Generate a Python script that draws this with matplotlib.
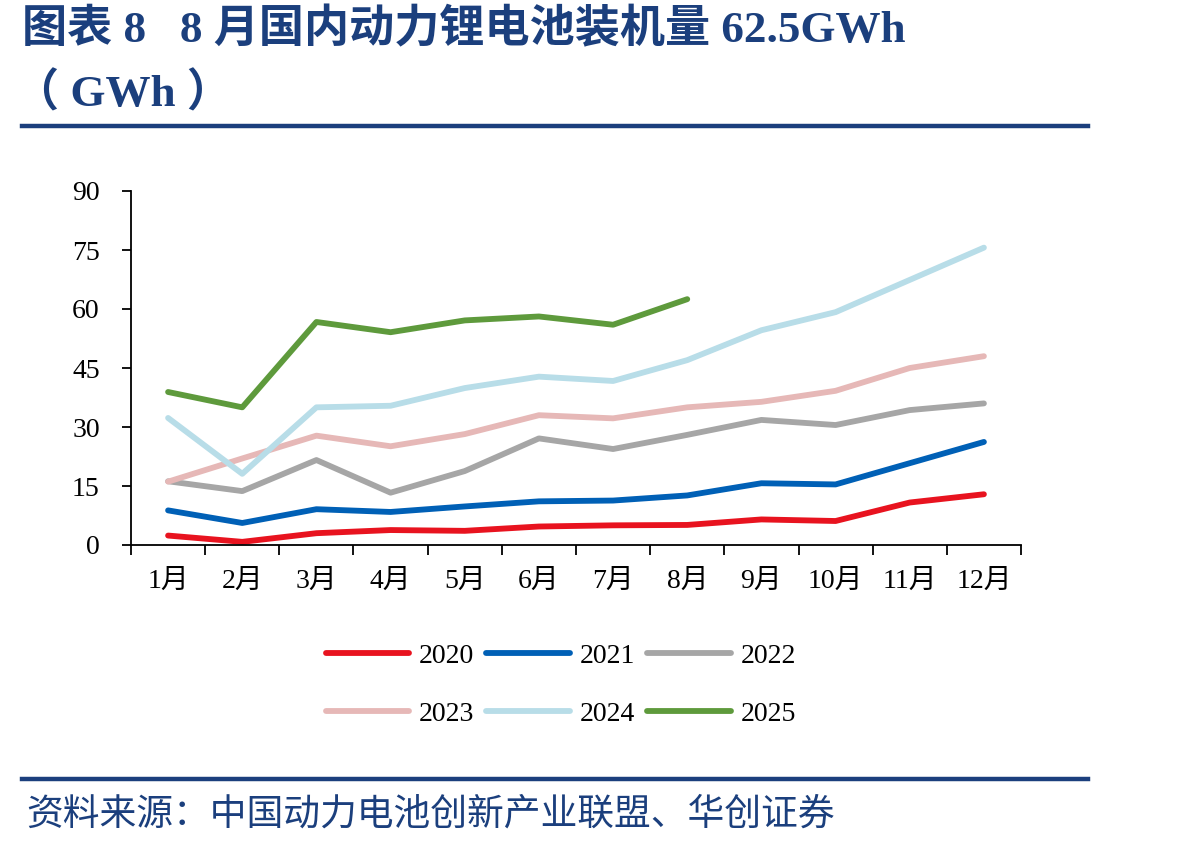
import matplotlib
matplotlib.use("Agg")
import matplotlib.pyplot as plt
from matplotlib.lines import Line2D

plt.rcParams['font.family'] = ['Liberation Serif', 'Noto Sans CJK SC']

# Monthly installed volume of power batteries (GWh)
months = ["1月", "2月", "3月", "4月", "5月", "6月", "7月", "8月", "9月", "10月", "11月", "12月"]
v2020 = [2.4, 0.8, 3.0, 3.8, 3.6, 4.7, 5.0, 5.1, 6.5, 6.1, 10.8, 12.9]
v2021 = [8.8, 5.6, 9.1, 8.4, 9.8, 11.1, 11.3, 12.6, 15.7, 15.4, 20.8, 26.2]
v2022 = [16.2, 13.7, 21.6, 13.3, 18.8, 27.1, 24.4, 28.0, 31.8, 30.5, 34.3, 36.0]
v2023 = [16.1, 22.0, 27.8, 25.1, 28.2, 33.0, 32.2, 35.0, 36.4, 39.2, 45.0, 48.0]
v2024 = [32.3, 18.1, 35.0, 35.4, 39.9, 42.8, 41.7, 47.0, 54.6, 59.2, 67.4, 75.6]
v2025 = [38.9, 35.0, 56.7, 54.1, 57.1, 58.1, 56.0, 62.5]

series = [
    ("2020", v2020, "#E8131F"),
    ("2021", v2021, "#0060B6"),
    ("2022", v2022, "#A6A6A6"),
    ("2023", v2023, "#E6B8B7"),
    ("2024", v2024, "#B8DDE8"),
    ("2025", v2025, "#5E9A3C"),
]

navy = "#1B3F7D"

fig = plt.figure(figsize=(11.98, 8.48), dpi=100)
ax = fig.add_axes([131 / 1198, 1 - 545 / 848, (1021 - 131) / 1198, (545 - 191) / 848])

for name, vals, color in series:
    ax.plot(range(len(vals)), vals, color=color, lw=4.2, solid_capstyle='round',
            solid_joinstyle='round', label=name)

ax.set_xlim(-0.5, 11.5)
ax.set_ylim(0, 90)
ax.set_yticks(range(0, 91, 15))

# ticks between categories, labels on the categories
ax.set_xticks([i - 0.5 for i in range(13)])
ax.set_xticklabels([])
ax.set_xticks(range(12), minor=True)
ax.set_xticklabels(months, minor=True)
ax.tick_params(axis='x', which='major', direction='out', length=7, width=1.3)
ax.tick_params(axis='x', which='minor', length=0, pad=17, labelsize=20)
ax.tick_params(axis='y', direction='out', length=6.5, width=1.3, pad=16, labelsize=20)

for s in ["top", "right"]:
    ax.spines[s].set_visible(False)
for s in ["left", "bottom"]:
    ax.spines[s].set_linewidth(1.3)

# legend filled row by row: 2020 2021 2022 / 2023 2024 2025
handles = [Line2D([0], [0], color=c, lw=4.2, solid_capstyle='round') for _, _, c in series]
labels = [n for n, _, _ in series]
order = [0, 3, 1, 4, 2, 5]
fig.legend([handles[i] for i in order], [labels[i] for i in order], ncol=3, loc='center',
           bbox_to_anchor=(0.468, 0.192), frameon=False, fontsize=20, handlelength=3.0,
           handletextpad=0.35, columnspacing=0.45, labelspacing=1.15)

# title block
fig.text(22 / 1198, 1 - 30 / 848, "图表 8   8 月国内动力锂电池装机量 62.5GWh", fontsize=32.5,
         fontweight='bold', color=navy, va='center', ha='left')
fig.text(14 / 1198, 1 - 94 / 848, "（ GWh ）", fontsize=32.5, fontweight='bold',
         color=navy, va='center', ha='left')
fig.add_artist(Line2D([22 / 1198, 1088 / 1198], [1 - 126 / 848, 1 - 126 / 848],
                      color=navy, lw=3.2, transform=fig.transFigure))
fig.add_artist(Line2D([22 / 1198, 1088 / 1198], [1 - 779 / 848, 1 - 779 / 848],
                      color=navy, lw=3.2, transform=fig.transFigure))
fig.text(26 / 1198, 1 - 815 / 848, "资料来源：中国动力电池创新产业联盟、华创证券", fontsize=26.5,
         color=navy, va='center', ha='left')

fig.savefig("out.png", dpi=100)
